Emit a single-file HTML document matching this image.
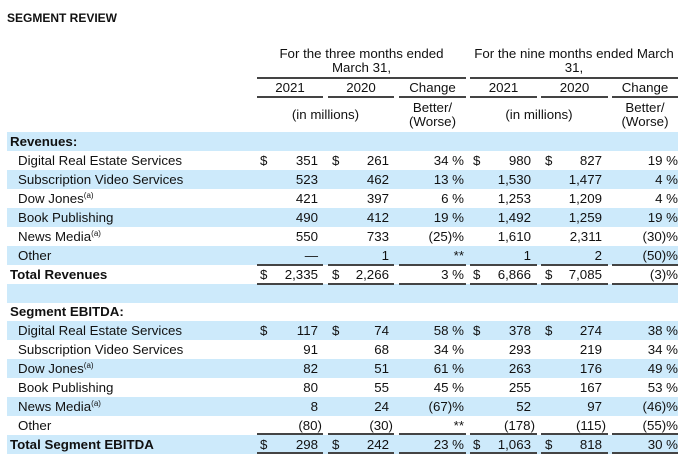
<!DOCTYPE html>
<html><head><meta charset="utf-8"><style>
body{margin:0;width:697px;height:464px;background:#fff;font-family:"Liberation Sans",Arial,sans-serif;font-size:13.3px;color:#111;position:relative;overflow:hidden}
.row{position:absolute;left:7px;width:671px;height:19px}
.b{background:#cdeafb}
.t{position:absolute;top:2px;white-space:nowrap;line-height:15px}
.l{left:11px}.lb{left:3px;font-weight:bold}
.d1{left:253px}.v1{right:360px}.d2{left:325px}.v2{right:289px}.c1{right:214px}
.d3{left:466px}.v3{right:147px}.d4{left:538px}.v4{right:76px}.c2{right:0px}
.p{transform:translateX(4px)}
sup{font-size:8px;line-height:0;vertical-align:5px}
.hl{position:absolute;height:2px;background:#444}
.h{position:absolute;text-align:center;line-height:14px;white-space:nowrap}
</style></head><body>
<div style="position:absolute;left:7px;top:11px;font-weight:bold;font-size:12px">SEGMENT REVIEW</div>

<div class="h" style="left:257px;width:209px;top:47px">For the three months ended<br>March 31,</div>
<div class="h" style="left:470px;width:208px;top:47px">For the nine months ended March<br>31,</div>
<div class="hl" style="left:257px;width:209px;top:77px"></div>
<div class="hl" style="left:470px;width:208px;top:77px"></div>
<div class="h" style="left:257px;width:66px;top:81px">2021</div>
<div class="h" style="left:328px;width:66px;top:81px">2020</div>
<div class="h" style="left:399px;width:67px;top:81px">Change</div>
<div class="h" style="left:470px;width:67px;top:81px">2021</div>
<div class="h" style="left:541px;width:67px;top:81px">2020</div>
<div class="h" style="left:612px;width:66px;top:81px">Change</div>
<div class="hl" style="left:257px;width:66px;top:96px"></div>
<div class="hl" style="left:328px;width:66px;top:96px"></div>
<div class="hl" style="left:399px;width:67px;top:96px"></div>
<div class="hl" style="left:470px;width:67px;top:96px"></div>
<div class="hl" style="left:541px;width:67px;top:96px"></div>
<div class="hl" style="left:612px;width:66px;top:96px"></div>
<div class="h" style="left:257px;width:137px;top:108px">(in millions)</div>
<div class="h" style="left:399px;width:67px;top:101px">Better/<br>(Worse)</div>
<div class="h" style="left:470px;width:138px;top:108px">(in millions)</div>
<div class="h" style="left:612px;width:66px;top:101px">Better/<br>(Worse)</div>

<div class="row b" style="top:132px"><span class="t lb">Revenues:</span></div>
<div class="row" style="top:151px"><span class="t l">Digital Real Estate Services</span><span class="t d1">$</span><span class="t v1">351</span><span class="t d2">$</span><span class="t v2">261</span><span class="t c1">34 %</span><span class="t d3">$</span><span class="t v3">980</span><span class="t d4">$</span><span class="t v4">827</span><span class="t c2">19 %</span></div>
<div class="row b" style="top:170px"><span class="t l">Subscription Video Services</span><span class="t v1">523</span><span class="t v2">462</span><span class="t c1">13 %</span><span class="t v3">1,530</span><span class="t v4">1,477</span><span class="t c2">4 %</span></div>
<div class="row" style="top:189px"><span class="t l">Dow Jones<sup>(a)</sup></span><span class="t v1">421</span><span class="t v2">397</span><span class="t c1">6 %</span><span class="t v3">1,253</span><span class="t v4">1,209</span><span class="t c2">4 %</span></div>
<div class="row b" style="top:208px"><span class="t l">Book Publishing</span><span class="t v1">490</span><span class="t v2">412</span><span class="t c1">19 %</span><span class="t v3">1,492</span><span class="t v4">1,259</span><span class="t c2">19 %</span></div>
<div class="row" style="top:227px"><span class="t l">News Media<sup>(a)</sup></span><span class="t v1">550</span><span class="t v2">733</span><span class="t c1">(25)%</span><span class="t v3">1,610</span><span class="t v4">2,311</span><span class="t c2">(30)%</span></div>
<div class="row b" style="top:246px"><span class="t l">Other</span><span class="t v1">—</span><span class="t v2">1</span><span class="t c1">**</span><span class="t v3">1</span><span class="t v4">2</span><span class="t c2">(50)%</span></div>
<div class="row" style="top:265px"><span class="t lb">Total Revenues</span><span class="t d1">$</span><span class="t v1">2,335</span><span class="t d2">$</span><span class="t v2">2,266</span><span class="t c1">3 %</span><span class="t d3">$</span><span class="t v3">6,866</span><span class="t d4">$</span><span class="t v4">7,085</span><span class="t c2">(3)%</span></div>
<div class="row b" style="top:284px"></div>
<div class="row" style="top:302px"><span class="t lb">Segment EBITDA:</span></div>
<div class="row b" style="top:321px"><span class="t l">Digital Real Estate Services</span><span class="t d1">$</span><span class="t v1">117</span><span class="t d2">$</span><span class="t v2">74</span><span class="t c1">58 %</span><span class="t d3">$</span><span class="t v3">378</span><span class="t d4">$</span><span class="t v4">274</span><span class="t c2">38 %</span></div>
<div class="row" style="top:340px"><span class="t l">Subscription Video Services</span><span class="t v1">91</span><span class="t v2">68</span><span class="t c1">34 %</span><span class="t v3">293</span><span class="t v4">219</span><span class="t c2">34 %</span></div>
<div class="row b" style="top:359px"><span class="t l">Dow Jones<sup>(a)</sup></span><span class="t v1">82</span><span class="t v2">51</span><span class="t c1">61 %</span><span class="t v3">263</span><span class="t v4">176</span><span class="t c2">49 %</span></div>
<div class="row" style="top:378px"><span class="t l">Book Publishing</span><span class="t v1">80</span><span class="t v2">55</span><span class="t c1">45 %</span><span class="t v3">255</span><span class="t v4">167</span><span class="t c2">53 %</span></div>
<div class="row b" style="top:397px"><span class="t l">News Media<sup>(a)</sup></span><span class="t v1">8</span><span class="t v2">24</span><span class="t c1">(67)%</span><span class="t v3">52</span><span class="t v4">97</span><span class="t c2">(46)%</span></div>
<div class="row" style="top:416px"><span class="t l">Other</span><span class="t v1 p">(80)</span><span class="t v2 p">(30)</span><span class="t c1">**</span><span class="t v3 p">(178)</span><span class="t v4 p">(115)</span><span class="t c2">(55)%</span></div>
<div class="row b" style="top:435px"><span class="t lb">Total Segment EBITDA</span><span class="t d1">$</span><span class="t v1">298</span><span class="t d2">$</span><span class="t v2">242</span><span class="t c1">23 %</span><span class="t d3">$</span><span class="t v3">1,063</span><span class="t d4">$</span><span class="t v4">818</span><span class="t c2">30 %</span></div>

<div class="hl" style="left:257px;width:66px;top:264px"></div><div class="hl" style="left:328px;width:66px;top:264px"></div><div class="hl" style="left:399px;width:67px;top:264px"></div><div class="hl" style="left:470px;width:67px;top:264px"></div><div class="hl" style="left:541px;width:67px;top:264px"></div><div class="hl" style="left:612px;width:66px;top:264px"></div>
<div class="hl" style="left:257px;width:66px;top:283px"></div><div class="hl" style="left:328px;width:66px;top:283px"></div><div class="hl" style="left:399px;width:67px;top:283px"></div><div class="hl" style="left:470px;width:67px;top:283px"></div><div class="hl" style="left:541px;width:67px;top:283px"></div><div class="hl" style="left:612px;width:66px;top:283px"></div>
<div class="hl" style="left:257px;width:66px;top:433px"></div><div class="hl" style="left:328px;width:66px;top:433px"></div><div class="hl" style="left:399px;width:67px;top:433px"></div><div class="hl" style="left:470px;width:67px;top:433px"></div><div class="hl" style="left:541px;width:67px;top:433px"></div><div class="hl" style="left:612px;width:66px;top:433px"></div>
<div class="hl" style="left:257px;width:66px;top:452px"></div><div class="hl" style="left:328px;width:66px;top:452px"></div><div class="hl" style="left:399px;width:67px;top:452px"></div><div class="hl" style="left:470px;width:67px;top:452px"></div><div class="hl" style="left:541px;width:67px;top:452px"></div><div class="hl" style="left:612px;width:66px;top:452px"></div>
</body></html>
